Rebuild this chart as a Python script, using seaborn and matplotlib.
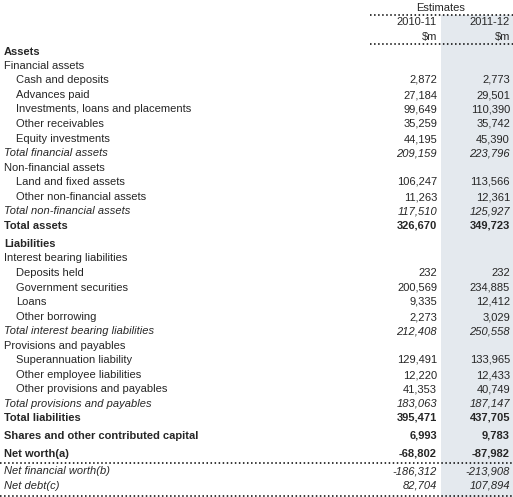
import matplotlib
matplotlib.use("Agg")
import matplotlib.pyplot as plt
import seaborn as sns

sns.set_theme(style="white")
plt.rcParams['font.family'] = ['Liberation Sans', 'DejaVu Sans']

labels = ["Assets", "Financial assets", "Cash and deposits", "Advances paid",
          "Investments, loans and placements", "Other receivables", "Equity investments",
          "Total financial assets", "Non-financial assets", "Land and fixed assets",
          "Other non-financial assets", "Total non-financial assets", "Total assets",
          "Liabilities", "Interest bearing liabilities", "Deposits held",
          "Government securities", "Loans", "Other borrowing",
          "Total interest bearing liabilities", "Provisions and payables",
          "Superannuation liability", "Other employee liabilities",
          "Other provisions and payables", "Total provisions and payables",
          "Total liabilities", "Shares and other contributed capital", "Net worth(a)",
          "Net financial worth(b)", "Net debt(c)"]
styles = ["b", "n", "i1", "i1", "i1", "i1", "i1", "it", "n", "i1", "i1", "it", "b",
          "b", "n", "i1", "i1", "i1", "i1", "it", "n", "i1", "i1", "i1", "it",
          "b", "b", "b", "it", "it"]
v2010 = ["", "", "2,872", "27,184", "99,649", "35,259", "44,195", "209,159", "",
         "106,247", "11,263", "117,510", "326,670", "", "", "232", "200,569", "9,335",
         "2,273", "212,408", "", "129,491", "12,220", "41,353", "183,063", "395,471",
         "6,993", "-68,802", "-186,312", "82,704"]
v2011 = ["", "", "2,773", "29,501", "110,390", "35,742", "45,390", "223,796", "",
         "113,566", "12,361", "125,927", "349,723", "", "", "232", "234,885", "12,412",
         "3,029", "250,558", "", "133,965", "12,433", "40,749", "187,147", "437,705",
         "9,783", "-87,982", "-213,908", "107,894"]
ys = [52, 66, 80, 95, 109, 124, 139, 153, 168, 182, 197, 211, 226, 244, 258, 273,
      288, 302, 317, 331, 346, 360, 375, 389, 404, 418, 436, 454, 471, 486]

fig = plt.figure(figsize=(5.13, 4.97), dpi=100)
ax = fig.add_axes([0, 0, 1, 1])
ax.set_xlim(0, 513)
ax.set_ylim(497, 0)
ax.axis("off")

ax.fill_between([441, 513], 15, 497, color="#e4e9ee", lw=0)
ax.plot([370, 513], [15, 15], ls=":", color="black", lw=1.1)
ax.plot([370, 513], [44, 44], ls=":", color="black", lw=1.1)
ax.plot([0, 513], [463, 463], ls=":", color="black", lw=1.1)
ax.plot([0, 513], [495.5, 495.5], ls=":", color="black", lw=1.1)

fs = 8
ax.text(441, 8, "Estimates", ha="center", va="center", fontsize=fs)
ax.text(437, 22, "2010-11", ha="right", va="center", fontsize=fs)
ax.text(510, 22, "2011-12", ha="right", va="center", fontsize=fs)
ax.text(437, 37, "$m", ha="right", va="center", fontsize=fs)
ax.text(510, 37, "$m", ha="right", va="center", fontsize=fs)

for lab, st, a, b, y in zip(labels, styles, v2010, v2011, ys):
    kw = dict(fontsize=fs, va="center")
    x = 4
    if st == "b":
        kw["fontweight"] = "bold"
    elif st == "it":
        kw["fontstyle"] = "italic"
    elif st == "i1":
        x = 16
    ax.text(x, y, lab, ha="left", **kw)
    ax.text(437, y, a, ha="right", **kw)
    ax.text(510, y, b, ha="right", **kw)

fig.savefig("out.png", dpi=100)
